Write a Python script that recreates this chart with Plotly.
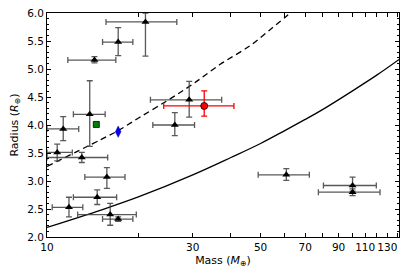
import plotly.graph_objects as go

# Black triangle planets
tri_mass = [21.0, 17.1, 14.3, 13.8, 11.3, 10.8, 13.0, 15.7, 14.6, 11.8, 16.1, 17.1, 29.2, 26.2, 60.7, 100.0, 100.0]
tri_mass_lo = [15.6, 15.2, 11.7, 12.2, 10.0, 10.0, 10.0, 13.3, 12.2, 10.4, 12.6, 15.2, 21.8, 22.2, 49.1, 80.3, 77.3]
tri_mass_hi = [26.6, 19.1, 16.8, 15.5, 12.7, 12.1, 15.8, 18.0, 16.9, 13.1, 19.6, 19.1, 37.3, 30.4, 72.2, 119.6, 123.0]
tri_rad = [5.84, 5.48, 5.16, 4.19, 3.93, 3.51, 3.42, 3.07, 2.71, 2.53, 2.40, 2.32, 4.45, 4.00, 3.11, 2.92, 2.80]
tri_rad_lo = [5.23, 5.24, 5.11, 3.62, 3.72, 3.36, 3.33, 2.87, 2.58, 2.36, 2.21, 2.28, 4.14, 3.81, 3.01, 2.82, 2.74]
tri_rad_hi = [6.00, 5.74, 5.22, 4.79, 4.15, 3.66, 3.51, 3.24, 2.84, 2.71, 2.60, 2.36, 4.78, 4.22, 3.22, 3.07, 2.86]

# Highlighted planet (red)
red_mass = [32.7]
red_mass_lo = [24.1]
red_mass_hi = [40.9]
red_rad = [4.34]
red_rad_lo = [4.16]
red_rad_hi = [4.61]

# Green square and blue diamond
green_mass = [14.5]
green_rad = [4.01]
blue_mass = [17.1]
blue_rad = [3.88]

# Model curves
solid_mass = [10, 15, 20, 30, 40, 50, 60, 70, 80, 100, 120, 142]
solid_rad = [2.17, 2.48, 2.72, 3.11, 3.42, 3.67, 3.90, 4.10, 4.28, 4.61, 4.89, 5.17]
dash_mass = [10, 15, 17.1, 20, 25, 30, 36.8, 46.3, 55, 61, 64]
dash_rad = [3.26, 3.74, 3.90, 4.13, 4.45, 4.73, 5.08, 5.42, 5.75, 5.95, 6.05]

# Axis ticks
x_tickvals = [10, 30, 50, 70, 90, 110, 130]
x_ticktext = ["10", "30", "50", "70", "90", "110", "130"]
x_minorvals = [20, 40, 60, 80, 100, 120, 140]
y_tickvals = [2.0, 2.5, 3.0, 3.5, 4.0, 4.5, 5.0, 5.5, 6.0]
y_ticktext = ["2.0", "2.5", "3.0", "3.5", "4.0", "4.5", "5.0", "5.5", "6.0"]


def diff(a, b):
    return [x - y for x, y in zip(a, b)]


fig = go.Figure()

fig.add_trace(go.Scatter(
    x=solid_mass, y=solid_rad, mode="lines", line=dict(color="black", width=1.3, shape="spline"),
    showlegend=False, hoverinfo="skip"))
fig.add_trace(go.Scatter(
    x=dash_mass, y=dash_rad, mode="lines",
    line=dict(color="black", width=1.3, dash="6px,4px", shape="spline"),
    showlegend=False, hoverinfo="skip"))

err_col = "rgba(60,60,60,0.85)"
fig.add_trace(go.Scatter(
    x=tri_mass, y=tri_rad, mode="markers",
    marker=dict(symbol="triangle-up", size=7, color="black"),
    error_x=dict(type="data", symmetric=False, array=diff(tri_mass_hi, tri_mass),
                 arrayminus=diff(tri_mass, tri_mass_lo), color=err_col, thickness=1.3, width=3),
    error_y=dict(type="data", symmetric=False, array=diff(tri_rad_hi, tri_rad),
                 arrayminus=diff(tri_rad, tri_rad_lo), color=err_col, thickness=1.3, width=3),
    showlegend=False))

fig.add_trace(go.Scatter(
    x=red_mass, y=red_rad, mode="markers",
    marker=dict(symbol="circle", size=7, color="red", line=dict(color="black", width=0.8)),
    error_x=dict(type="data", symmetric=False, array=diff(red_mass_hi, red_mass),
                 arrayminus=diff(red_mass, red_mass_lo), color="red", thickness=1.3, width=3),
    error_y=dict(type="data", symmetric=False, array=diff(red_rad_hi, red_rad),
                 arrayminus=diff(red_rad, red_rad_lo), color="red", thickness=1.3, width=3),
    showlegend=False))

fig.add_trace(go.Scatter(
    x=green_mass, y=green_rad, mode="markers",
    marker=dict(symbol="square", size=6, color="green", line=dict(color="black", width=0.8)),
    showlegend=False))
fig.add_trace(go.Scatter(
    x=blue_mass, y=blue_rad, mode="markers",
    marker=dict(symbol="diamond-tall", size=8, color="blue", line=dict(color="navy", width=0.5)),
    showlegend=False))

axis_common = dict(showgrid=False, zeroline=False, showline=True, linecolor="black", linewidth=1,
                   mirror="ticks", ticks="inside", tickcolor="black", ticklen=4, tickwidth=0.8,
                   automargin=False,
                   tickfont=dict(family="DejaVu Sans", size=10.5, color="black"))

fig.update_xaxes(type="log", range=[1.0, 2.152], tickmode="array", tickvals=x_tickvals,
                 ticktext=x_ticktext,
                 minor=dict(tickmode="array", tickvals=x_minorvals, ticks="inside", ticklen=4,
                            tickcolor="black", tickwidth=0.8),
                 title=dict(text="Mass (<i>M</i><sub>⊕</sub>)", font=dict(family="DejaVu Sans", size=11, color="black"), standoff=4),
                 **axis_common)
fig.update_yaxes(range=[2.0, 6.0], tickmode="array", tickvals=y_tickvals, ticktext=y_ticktext,
                 minor=dict(ticks="inside", ticklen=2, tickcolor="black", dtick=0.1, tick0=2.0),
                 title=dict(text="Radius (<i>R</i><sub>⊕</sub>)", font=dict(family="DejaVu Sans", size=11, color="black"), standoff=6),
                 **axis_common)

fig.update_layout(width=408, height=277, margin=dict(l=47, r=9, t=13, b=40),
                  paper_bgcolor="white", plot_bgcolor="white",
                  font=dict(family="DejaVu Sans", color="black"))

fig.write_html("out.html", config={"displayModeBar": False},
               post_script="document.body.style.margin='0px';")
